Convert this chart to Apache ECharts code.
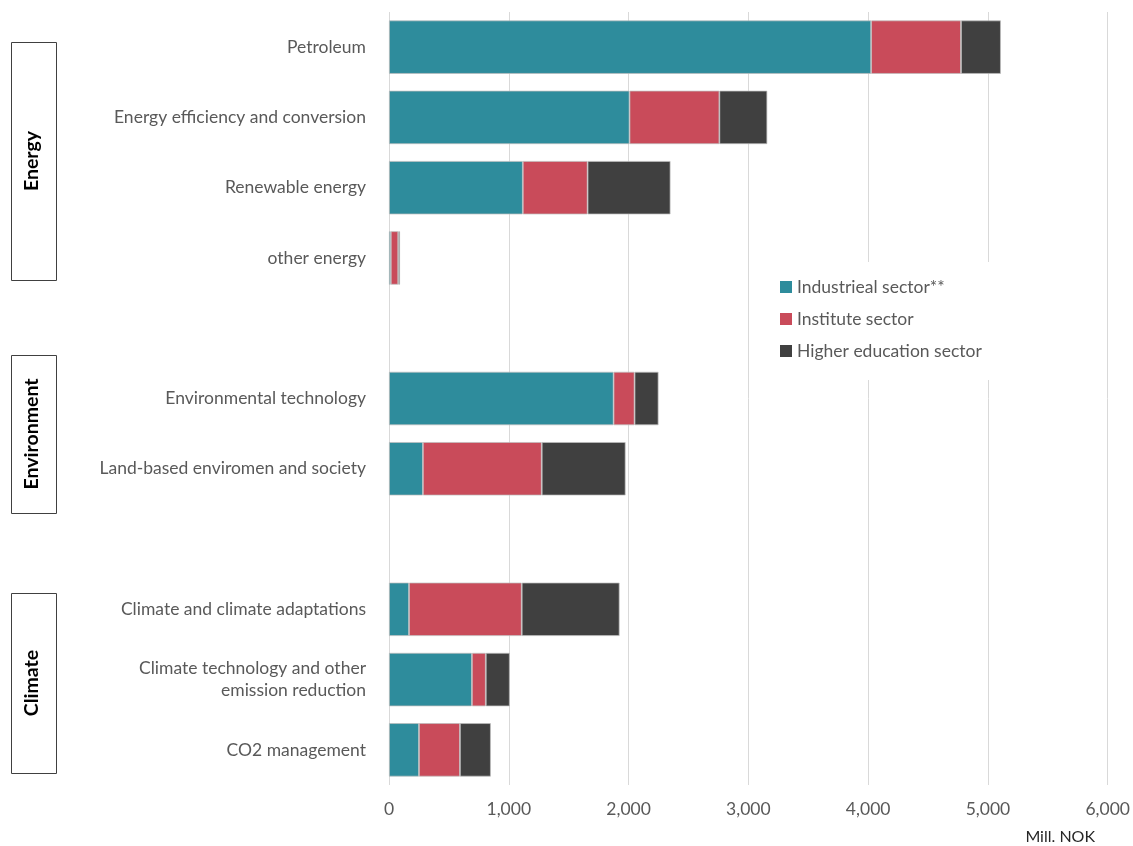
<!DOCTYPE html>
<html>
<head>
<meta charset="utf-8">
<script src="https://cdn.jsdelivr.net/npm/echarts@6/dist/echarts.min.js"></script>
<style>
  html, body { margin: 0; padding: 0; background: #fff; }
  #chart { width: 1133px; height: 846px; }
</style>
</head>
<body>
<div id="chart"></div>
<script>
// R&D expenditure by topic and performing sector (Mill. NOK)
const categories = [
  'Petroleum',
  'Energy efficiency and conversion',
  'Renewable energy',
  'other energy',
  '',
  'Environmental technology',
  'Land-based enviromen and society',
  ' ',
  'Climate and climate adaptations',
  'Climate technology and other\nemission reduction',
  'CO2 management'
];
const industrial = [4025, 2008, 1117, 15, null, 1875, 283, null, 167, 692, 250];
const institute  = [750, 750, 541, 62, null, 175, 992, null, 941, 116, 342];
const higherEdu  = [333, 400, 692, 15, null, 200, 700, null, 817, 200, 258];
const xTicks = [0, 1000, 2000, 3000, 4000, 5000, 6000];
const groups = ['Energy', 'Environment', 'Climate'];

const textGrey = '#595959';
const font = 'Lato, "Open Sans", sans-serif';

const chart = echarts.init(document.getElementById('chart'));

const barStyle = color => ({
  color: color,
  borderColor: 'rgba(190,190,190,0.9)',
  borderWidth: 0.8
});

// Group boxes on the left (layout only)
const groupBoxes = [
  { top: 42, bottom: 280 },
  { top: 355, bottom: 513 },
  { top: 593, bottom: 773 }
];
const graphics = [];
groups.forEach((g, i) => {
  const b = groupBoxes[i];
  graphics.push({
    type: 'rect',
    shape: { x: 11.5, y: b.top + 0.5, width: 45, height: b.bottom - b.top },
    style: { fill: '#fff', stroke: '#404040', lineWidth: 1 }
  });
  graphics.push({
    type: 'text',
    x: 32, y: (b.top + b.bottom) / 2,
    rotation: Math.PI / 2,
    style: {
      text: g, fill: '#000', font: 'bold 19.5px ' + font,
      textAlign: 'center', textVerticalAlign: 'middle'
    }
  });
});
graphics.push({
  type: 'text', right: 38, top: 829,
  style: { text: 'Mill. NOK', fill: '#262626', font: '16px ' + font }
});

chart.setOption({
  animation: false,
  textStyle: { fontFamily: font },
  grid: { left: 389, right: 24, top: 12, bottom: 61, containLabel: false },
  legend: {
    orient: 'vertical',
    left: 770, top: 262,
    padding: [16, 10, 20, 10],
    itemGap: 14,
    itemWidth: 12, itemHeight: 12,
    backgroundColor: '#fff',
    icon: 'rect',
    itemStyle: { borderWidth: 0 },
    textStyle: { color: textGrey, fontSize: 17.5, fontFamily: font },
    data: ['Industrieal sector**', 'Institute sector', 'Higher education sector']
  },
  xAxis: {
    type: 'value',
    min: 0, max: 6000, interval: 1000,
    axisLine: { show: false },
    axisTick: { show: false },
    splitLine: { show: true, lineStyle: { color: '#d9d9d9', width: 1 } },
    axisLabel: {
      color: textGrey, fontSize: 17.5, margin: 15,
      formatter: v => xTicks.includes(v) ? v.toLocaleString('en-US') : ''
    }
  },
  yAxis: {
    type: 'category',
    inverse: true,
    data: categories,
    axisLine: { show: false },
    axisTick: { show: false },
    axisLabel: { color: textGrey, fontSize: 17.5, margin: 23, align: 'right', lineHeight: 22 }
  },
  series: [
    { name: 'Industrieal sector**', type: 'bar', stack: 'all', barCategoryGap: '24%',
      itemStyle: barStyle('#2E8C9C'), data: industrial, z: 3 },
    { name: 'Institute sector', type: 'bar', stack: 'all',
      itemStyle: barStyle('#C94B5A'), data: institute, z: 3 },
    { name: 'Higher education sector', type: 'bar', stack: 'all',
      itemStyle: barStyle('#404040'), data: higherEdu, z: 3 }
  ],
  graphic: graphics
});
</script>
</body>
</html>
